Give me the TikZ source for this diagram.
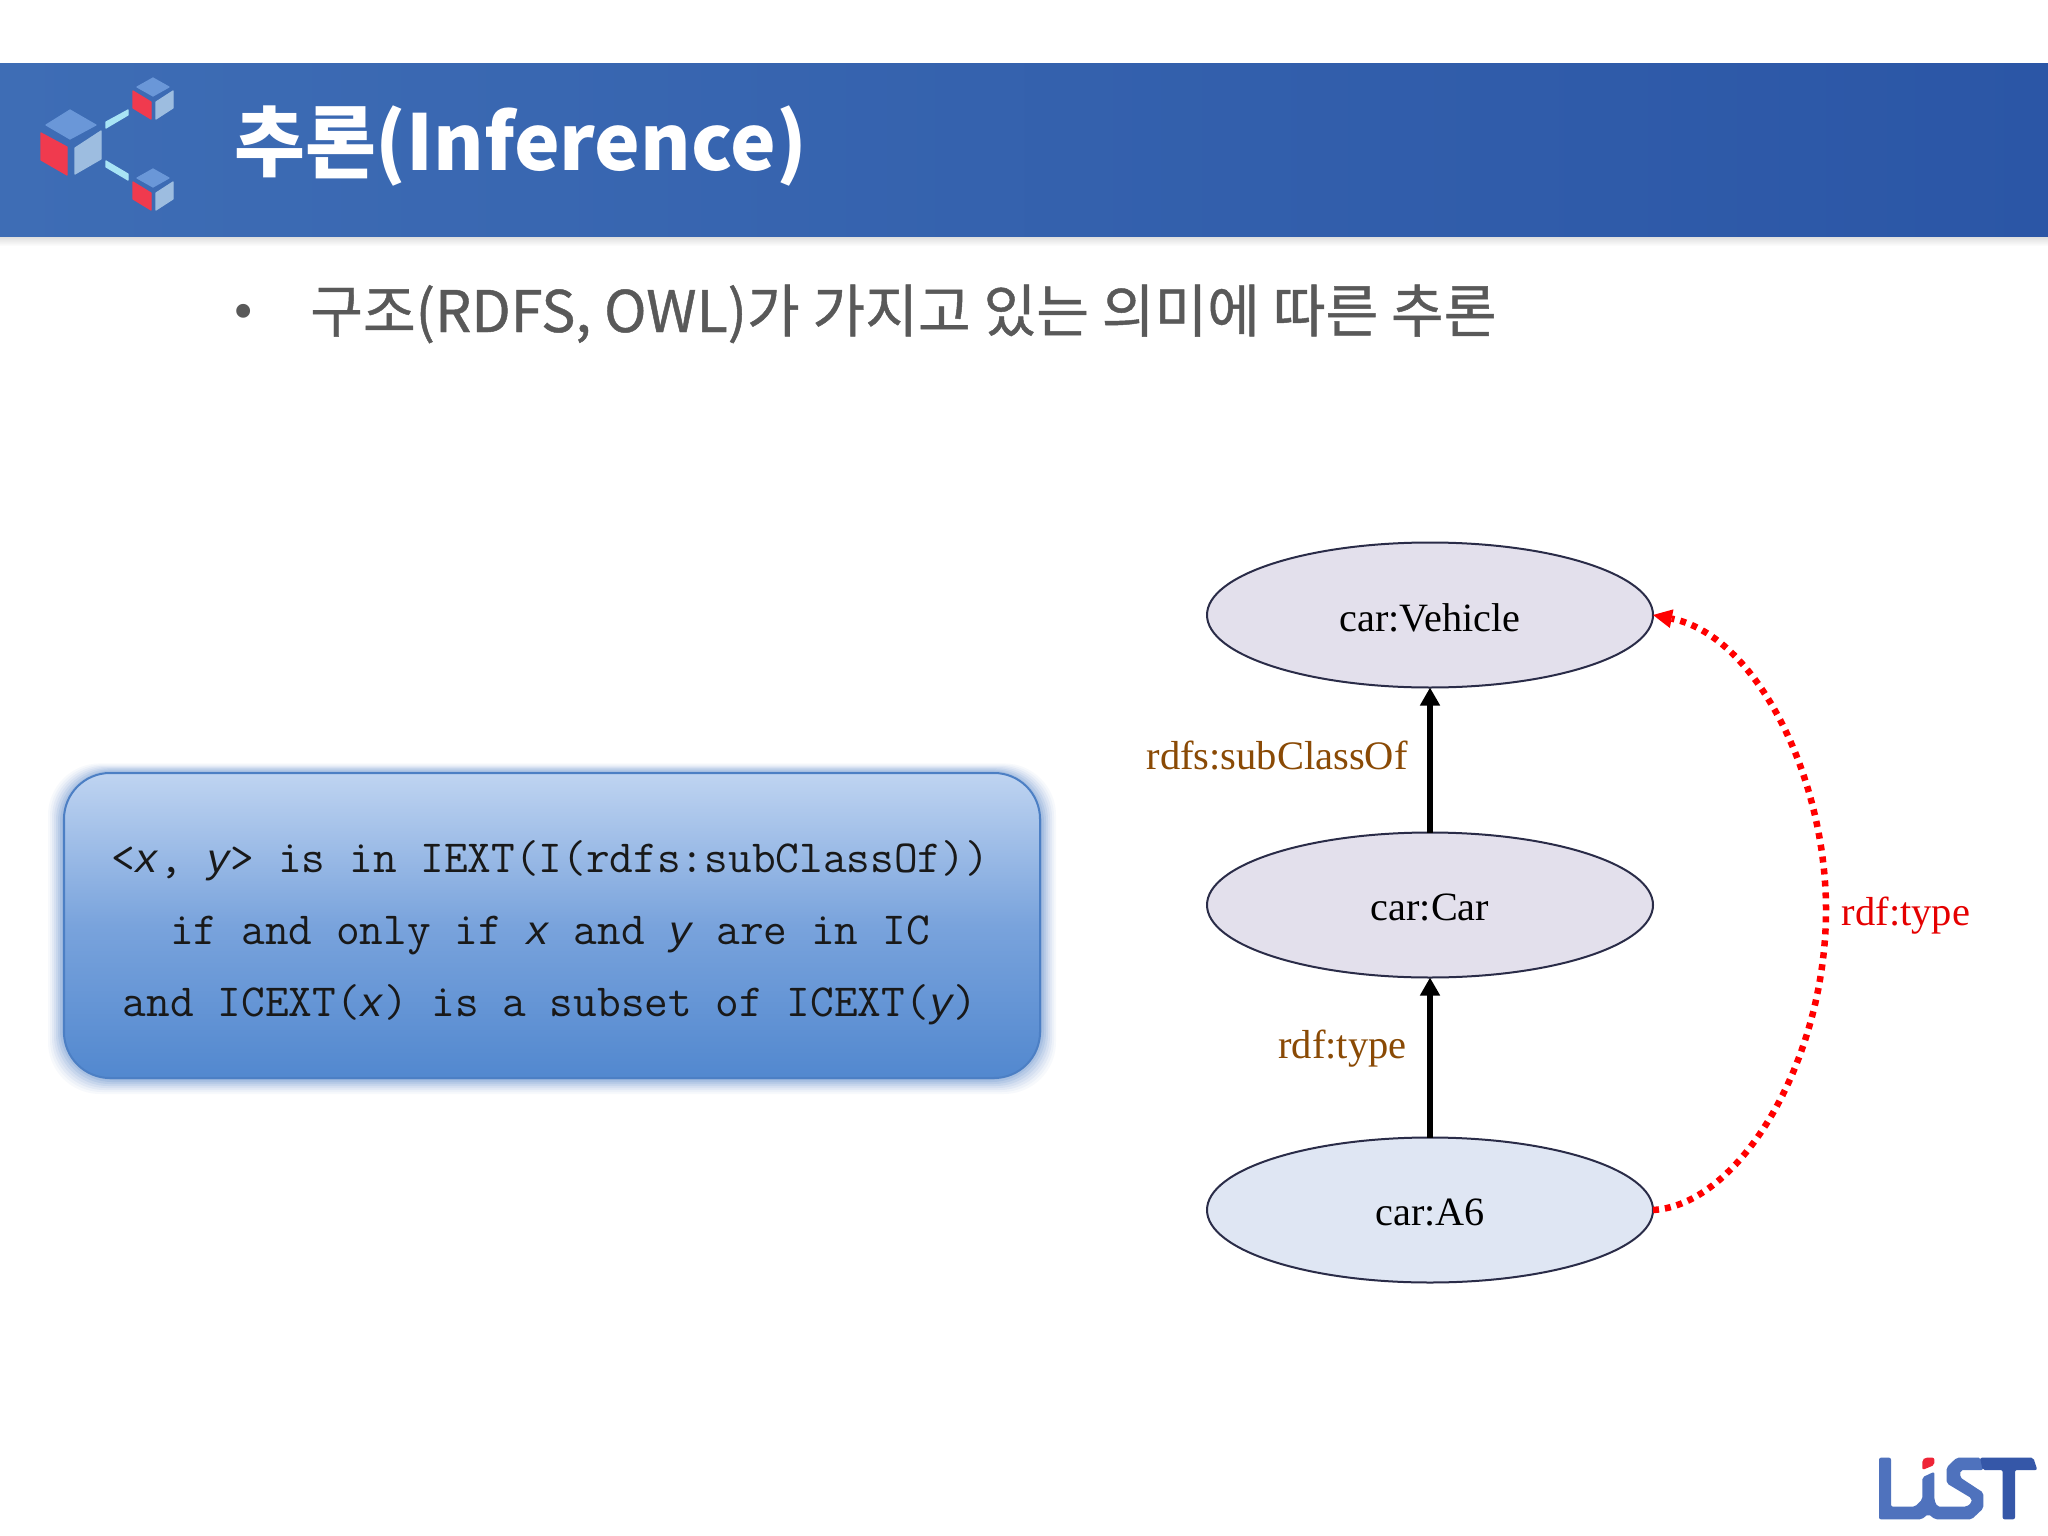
\documentclass[tikz,border=0pt]{standalone}
\usepackage{fontspec}
\setmainfont{Liberation Serif}
\setmonofont{Latin Modern Mono}
\newfontfamily\krfont{Noto Sans CJK KR}
\newfontfamily\krmed[FakeBold=0.8]{Noto Sans CJK KR}
\newfontfamily\varfam{Liberation Mono}
\newcommand\mv[1]{{\varfam\itshape\fontsize{40.6}{40}\selectfont #1}}
\usetikzlibrary{arrows.meta,shapes.geometric}
\definecolor{hdrA}{HTML}{3E6DB5}
\definecolor{hdrB}{HTML}{2B56A6}
\definecolor{subgray}{HTML}{595959}
\definecolor{boxtop}{HTML}{BFD4F1}
\definecolor{boxmid}{HTML}{79A3DC}
\definecolor{boxbot}{HTML}{5288CF}
\definecolor{boxline}{HTML}{4C7FC4}
\definecolor{ellfill}{HTML}{E3E0EC}
\definecolor{ellfillb}{HTML}{DFE6F3}
\definecolor{ellline}{HTML}{2A2C48}
\definecolor{brownlbl}{HTML}{8A4A05}
\definecolor{cubetop}{HTML}{6A97D8}
\definecolor{cubered}{HTML}{F03A4E}
\definecolor{cubeside}{HTML}{9DBDE0}
\definecolor{cubelink}{HTML}{A8E4F5}
\definecolor{logoblue}{HTML}{4F72BD}
\definecolor{logodark}{HTML}{3557A8}
\definecolor{logored}{HTML}{EE2436}
\tikzset{
  ell/.style={ellipse,draw=ellline,line width=2pt,minimum width=446pt,minimum height=145pt,inner sep=0pt,outer sep=0pt},
  elltext/.style={inner sep=0pt,font=\fontsize{40.2}{40}\selectfont,text=black},
  monoline/.style={anchor=base,inner sep=0pt,font=\ttfamily\fontsize{46}{46}\selectfont,text=black!90},
  lbl/.style={anchor=base,inner sep=0pt,font=\fontsize{40.5}{40}\selectfont},
  blackarrow/.style={draw=black,line width=5.5pt,-{Triangle[length=18pt,width=19pt]}},
  redarrow/.style={draw=red,line width=6.5pt,dash pattern=on 6pt off 6pt,-{Triangle[length=19pt,width=19pt,line width=0pt,fill=red]}},
  facet/.style={line join=round,line width=1.2pt},
}
\begin{document}
\begin{tikzpicture}[x=1pt,y=-1pt]
\useasboundingbox (0,0) rectangle (2048,1536);
\fill[white] (0,0) rectangle (2048,1536);
% header
\shade[top color=black!14,bottom color=white] (0,236) rectangle (2048,246);
\shade[left color=hdrA,right color=hdrB] (0,64) rectangle (2048,236);
% icon
\fill[cubetop,draw=cubetop,facet] (70,110) -- (96,125) -- (70,139) -- (46,125) -- cycle;
\fill[cubered,draw=cubered,facet] (41,133) -- (67,147) -- (67,175) -- (41,160) -- cycle;
\fill[cubeside,draw=cubeside,facet] (101,131) -- (101,159) -- (75,174) -- (75,148) -- cycle;
\fill[cubelink,draw=cubelink,facet] (106,122) -- (128,110) -- (128,115) -- (106,128) -- cycle;
\fill[cubelink,draw=cubelink,facet] (106,161) -- (128,174) -- (128,180) -- (106,167) -- cycle;
\foreach \dy in {0,91}{
\begin{scope}[yshift=-\dy pt]
\fill[cubetop,draw=cubetop,facet] (153,78) -- (169,87) -- (153,96) -- (137,87) -- cycle;
\fill[cubered,draw=cubered,facet] (133,91) -- (151,102) -- (151,119) -- (133,108) -- cycle;
\fill[cubeside,draw=cubeside,facet] (173,91) -- (173,108) -- (156,119) -- (156,102) -- cycle;
\end{scope}}
% titles
\node[anchor=base west,inner sep=0pt,text=white,font=\krfont\bfseries\fontsize{77}{77}\selectfont] (title) at (234,170) {추론(Inference)};
\node[anchor=base,inner sep=0pt,text=subgray,font=\fontsize{58}{58}\selectfont] (bullet) at (244,330) {•};
\node[anchor=base west,inner sep=0pt,text=subgray,font=\krmed\fontsize{57.3}{57}\selectfont] (sub) at (310,332) {구조(RDFS, OWL)가 가지고 있는 의미에 따른 추론};
% box glow
\foreach \g/\o in {16/0.04,14/0.05,12/0.07,10/0.08,8/0.10,6/0.12,4/0.14,2/0.16}{
  \fill[boxline,opacity=\o,rounded corners=52pt] (64-\g,773-\g*0.6) rectangle (1040+\g,1078+\g);
}
\node[rectangle,rounded corners=46pt,draw=boxline,line width=2pt,top color=boxtop,bottom color=boxbot,middle color=boxmid,minimum width=976pt,minimum height=305pt,inner sep=0pt,outer sep=0pt] (box) at (552,925.5) {};
\node[monoline] (l1) at (550,872) {<\mv{x}, \mv{y}> is in IEXT(I(rdfs:subClassOf))};
\node[monoline] (l2) at (550,944) {if and only if \mv{x} and \mv{y} are in IC};
\node[monoline] (l3) at (550,1016) {and ICEXT(\mv{x}) is a subset of ICEXT(\mv{y})};
% graph
\node[ell,fill=ellfill] (veh) at (1430,615) {};
\node[ell,fill=ellfill] (car) at (1430,905) {};
\node[ell,fill=ellfillb] (a6) at (1430,1210) {};
\node[elltext] (vehT) at (1430,617.5) {car:Vehicle};
\node[elltext] (carT) at (1430,907.5) {car:Car};
\node[elltext] (a6T) at (1430,1212.5) {car:A6};
\draw[blackarrow] (car.north) -- (veh.south);
\draw[blackarrow] (a6.north) -- (car.south);
\coordinate (bend) at (1826,910);
\draw[redarrow] (a6.east) .. controls (1740,1205) and (1826,1060) .. (bend) .. controls (1826,775) and (1755,635) .. (veh.east);
\node[lbl,text=brownlbl] (sc) at (1277,769) {rdfs:subClassOf};
\node[lbl,text=brownlbl] (ty) at (1342.5,1058) {rdf:type};
\node[lbl,text=red!90!black] (ty2) at (1906,925) {rdf:type};
% logo
\begin{scope}[shift={(1820,1420)},x=0.3333pt,y=-0.3333pt]
\fill[logoblue,rounded corners=2pt] (177,113) -- (213,113) -- (213,260) -- (285,260) -- (307,238) -- (307,172) -- (343,155) -- (343,240) -- (352,260) -- (440,260) -- (455,248) -- (455,235) -- (380,190) -- (380,142) -- (410,113) -- (482,113) -- (490,150) -- (422,150) -- (420,172) -- (490,218) -- (490,265) -- (455,298) -- (345,298) -- (325,282) -- (305,298) -- (177,298) -- cycle;
\fill[logodark,rounded corners=2pt] (480,113) -- (640,113) -- (652,150) -- (585,150) -- (585,298) -- (548,298) -- (548,150) -- (488,150) -- cycle;
\fill[logored,rounded corners=2pt] (307,120) -- (315,113) -- (343,113) -- (343,135) -- (307,150) -- cycle;
\end{scope}
\end{tikzpicture}
\end{document}
